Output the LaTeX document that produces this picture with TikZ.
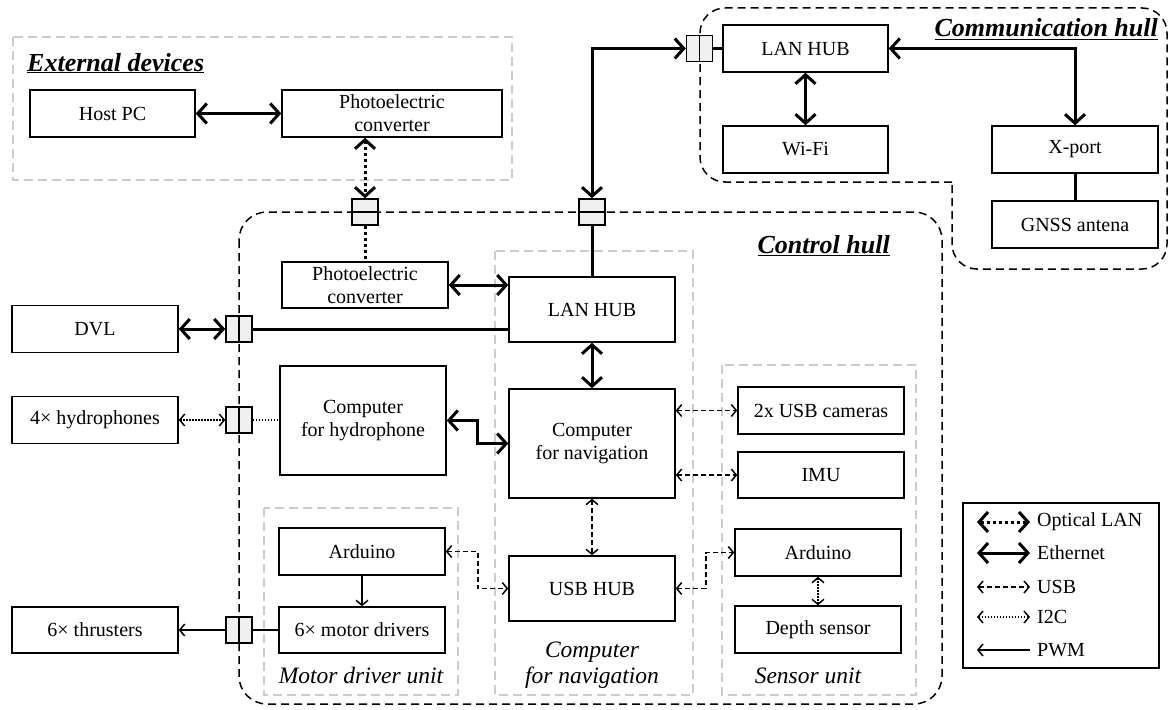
\documentclass[tikz,border=0pt]{standalone}
\usepackage{fontspec}
\setmainfont{Liberation Serif}
\usetikzlibrary{arrows.meta,calc}
\begin{document}
\begin{tikzpicture}[x=1pt,y=-1pt,
 font=\fontsize{20}{23}\selectfont,
 box/.style={draw,line width=1.5pt,minimum width=166pt,minimum height=47pt,inner sep=0pt,align=center},
 conn/.style={draw,fill=gray!12,line width=1.5pt,minimum width=26pt,minimum height=26pt,inner sep=0pt},
 grp/.style={draw=gray!40,line width=2.5pt,dash pattern=on 9pt off 5pt},
 hull/.style={draw=black,line width=1.5pt,dash pattern=on 8pt off 5pt},
 title/.style={font=\fontsize{26}{30}\selectfont\bfseries\itshape,inner sep=0pt},
 glabel/.style={font=\fontsize{23.5}{26}\selectfont\itshape,inner sep=0pt,align=center},
 eth/.style={line width=3pt,>={Straight Barb[length=9pt,width=20pt]}},
 opt/.style={line width=3pt,dash pattern=on 3pt off 3pt,>={Straight Barb[length=9pt,width=20pt]}},
 usb/.style={line width=1.5pt,dash pattern=on 5pt off 3pt,>={Straight Barb[length=5pt,width=12pt]}},
 iic/.style={line width=1.5pt,dash pattern=on 1.5pt off 1.5pt,>={Straight Barb[length=5pt,width=12pt]}},
 pwm/.style={line width=1.5pt,>={Straight Barb[length=5pt,width=12pt]}},
]
\useasboundingbox (0,0) rectangle (1169,709);

% group frames
\draw[grp] (13,37) rectangle (512,180);
\draw[grp] (495,251) rectangle (693,695);
\draw[grp] (264,508) rectangle (458,695);
\draw[grp] (722,365) rectangle (916,695);

% hulls
\draw[hull, rounded corners=28] (239,212) rectangle (942,704);
\draw[hull, rounded corners=25] (952,182) -- (700,182) -- (700,8) -- (1167,8) -- (1167,269) -- (952,269) -- (952,182);

% titles
\node[title,anchor=base west] (tExt) at (27,71) {\underline{External devices}};
\node[title,anchor=base east] (tComm) at (1158,37) {\underline{Communication hull}};
\node[title,anchor=base east] (tCtrl) at (890,253) {\underline{Control hull}};
\node[glabel,anchor=base] (tNav) at (592,683) {Computer\\for navigation};
\node[glabel,anchor=base] (tMot) at (361,683) {Motor driver unit};
\node[glabel,anchor=base] (tSen) at (808,683) {Sensor unit};

% boxes
\node[box,minimum width=165pt] (hostpc) at (112.5,113.5) {Host PC};
\node[box,minimum width=220pt] (photoExt) at (392,113.5) {Photoelectric\\converter};
\node[box,minimum height=46pt] (photoIn) at (365,285) {Photoelectric\\converter};
\node[box,minimum height=65pt] (lanC) at (592,309.5) {LAN HUB};
\node[box] (dvl) at (95,329) {DVL};
\node[box] (hyd) at (95,420) {4× hydrophones};
\node[box,minimum height=109pt] (hydro) at (363,420.5) {Computer\\for hydrophone};
\node[box,minimum height=109pt] (nav) at (592,443.5) {Computer\\for navigation};
\node[box,minimum height=65pt] (usbhub) at (592,588.5) {USB HUB};
\node[box] (mArd) at (362,551.5) {Arduino};
\node[box,minimum height=46pt] (mdrv) at (362,630) {6× motor drivers};
\node[box,minimum height=46pt] (thr) at (95,630) {6× thrusters};
\node[box] (cams) at (821,410.5) {2x USB cameras};
\node[box,minimum height=46pt] (imu) at (821,475) {IMU};
\node[box] (sArd) at (818,552.5) {Arduino};
\node[box] (depth) at (818,629.5) {Depth sensor};
\node[box,minimum width=165pt] (lanT) at (805.5,48.5) {LAN HUB};
\node[box,minimum width=165pt] (wifi) at (805.5,149.5) {Wi-Fi};
\node[box] (xport) at (1075,149.5) {X-port};
\node[box] (gnss) at (1075,224.5) {GNSS antena};

% connectors
\node[conn] (cExt) at (365,212) {};
\node[conn] (cLan) at (592,212) {};
\node[conn] (cComm) at (699.5,48.5) {};
\node[conn] (cDVL) at (239,329) {};
\node[conn] (cHyd) at (239,420) {};
\node[conn] (cThr) at (239,630) {};
\draw[line width=1.5pt] (cExt.west) -- (cExt.east);
\draw[line width=1.5pt] (cLan.west) -- (cLan.east);
\draw[line width=1.5pt] (cComm.north) -- (cComm.south);
\draw[line width=1.5pt] (cDVL.north) -- (cDVL.south);
\draw[line width=1.5pt] (cHyd.north) -- (cHyd.south);
\draw[line width=1.5pt] (cThr.north) -- (cThr.south);

% Ethernet
\draw[eth,<->] (hostpc) -- (photoExt);
\draw[eth,<->] (photoIn.east) -- (photoIn.east -| lanC.west);
\draw[eth,<->] (dvl) -- (cDVL);
\draw[eth] (cDVL.east) -- (cDVL.east -| lanC.west);
\draw[eth] (cLan.south) -- (lanC.north);
\draw[eth,<->] (cLan.north) |- (cComm.west);
\draw[eth] (cComm.east) -- (lanT.west);
\draw[eth,<->] (lanT) -- (wifi);
\draw[eth,<->] (lanT.east) -| (xport.north);
\draw[eth] (xport) -- (gnss);
\draw[eth,<->] (lanC) -- (nav);
\draw[eth,<->] (hydro.east) -- ++(31,0) |- (nav.west);

% Optical LAN
\draw[opt,<->] (photoExt.south -| cExt) -- (cExt.north);
\draw[opt] (cExt.south) -- (photoIn.north);

% USB
\draw[usb,<->] (nav) -- (usbhub);
\draw[usb,<->] (nav.east |- cams) -- (cams.west);
\draw[usb,<->] (nav.east |- imu) -- (imu.west);
\draw[usb,<->] (usbhub.east) -- ++(30,0) |- (sArd.west);
\draw[usb,<->] (mArd.east) -- ++(32,0) |- (usbhub.west);

% I2C
\draw[iic,<->] (hyd) -- (cHyd);
\draw[iic] (cHyd.east) -- (hydro.west |- cHyd);
\draw[iic,<->] (sArd) -- (depth);

% PWM
\draw[pwm,->] (mArd) -- (mdrv);
\draw[pwm,->] (cThr) -- (thr);
\draw[pwm] (mdrv) -- (cThr);

% legend
\node[draw,line width=1.5pt,minimum width=196pt,minimum height=165pt,anchor=north west] (legend) at (962,502) {};
\coordinate (l1a) at (977,522); \coordinate (l1b) at (1030,522);
\coordinate (l2a) at (977,553); \coordinate (l2b) at (1030,553);
\coordinate (l3a) at (977,587); \coordinate (l3b) at (1030,587);
\coordinate (l4a) at (977,617); \coordinate (l4b) at (1030,617);
\coordinate (l5a) at (977,650); \coordinate (l5b) at (1030,650);
\draw[opt,<->] (l1a) -- (l1b);
\draw[eth,<->] (l2a) -- (l2b);
\draw[usb,<->] (l3a) -- (l3b);
\draw[iic,<->] (l4a) -- (l4b);
\draw[pwm,<-] (l5a) -- (l5b);
\node[anchor=west,inner sep=0pt] (t1) at (1037,522) {Optical LAN};
\node[anchor=west,inner sep=0pt] (t2) at (1037,553) {Ethernet};
\node[anchor=west,inner sep=0pt] (t3) at (1037,587) {USB};
\node[anchor=west,inner sep=0pt] (t4) at (1037,617) {I2C};
\node[anchor=west,inner sep=0pt] (t5) at (1037,650) {PWM};
\end{tikzpicture}
\end{document}
